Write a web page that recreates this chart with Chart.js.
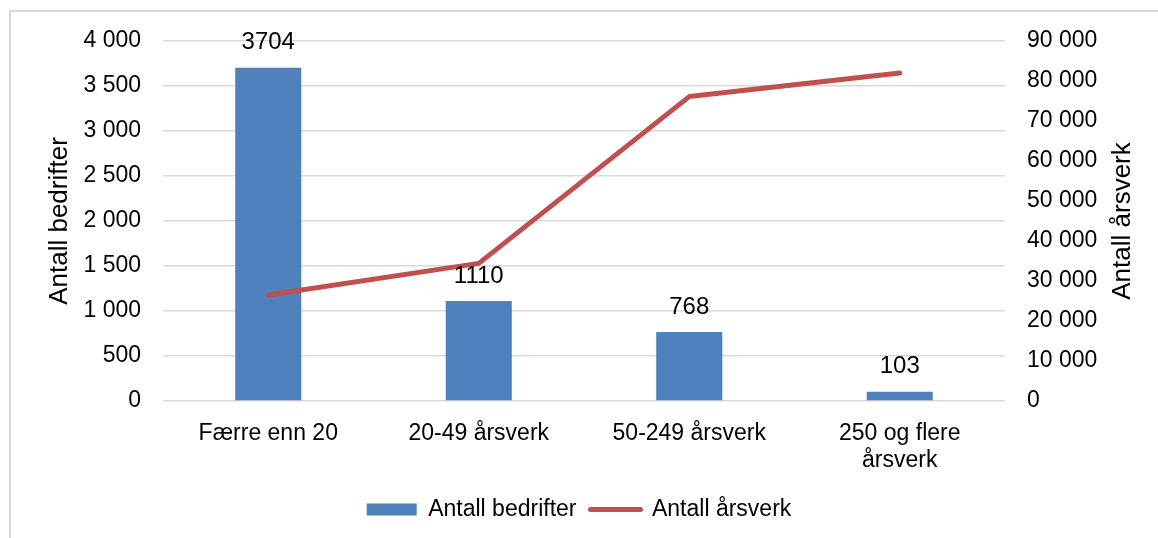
<!DOCTYPE html>
<html>
<head>
<meta charset="utf-8">
<script src="https://cdn.jsdelivr.net/npm/chart.js@4.4.1/dist/chart.umd.min.js"></script>
<style>
  html, body { margin: 0; padding: 0; background: #fff; overflow: hidden; }
  #frame { position: absolute; left: 9px; top: 10px; width: 1200px; height: 600px;
           border-left: 2px solid #d9d9d9; border-top: 2px solid #d9d9d9; }
  #wrap { position: absolute; left: 0; top: 0; width: 1158px; height: 538px; }
</style>
</head>
<body>
<div id="frame"></div>
<div id="wrap"><canvas id="chart"></canvas></div>
<script>
// Data
const categories = ['Færre enn 20', '20-49 årsverk', '50-249 årsverk', ['250 og flere', 'årsverk']];
const bedrifter = [3704, 1110, 768, 103];
const arsverk = [26500, 34400, 76100, 82000];
const leftTicks = [0, 500, 1000, 1500, 2000, 2500, 3000, 3500, 4000];
const rightTicks = [0, 10000, 20000, 30000, 40000, 50000, 60000, 70000, 80000, 90000];

const barColor = '#4F81BD';
const lineColor = '#C0504D';
const FONT = '"Liberation Sans", Arial, sans-serif';

function fmt(v) {
  return String(v).replace(/\B(?=(\d{3})+(?!\d))/g, ' ');
}

// Verdier over stolpene + tittel på høyre akse (lest nedenfra og opp)
const extras = {
  id: 'extras',
  afterDatasetsDraw(chart) {
    const meta = chart.getDatasetMeta(0);
    const ctx = chart.ctx;
    ctx.save();
    ctx.font = '24px ' + FONT;
    ctx.fillStyle = '#000';
    ctx.textAlign = 'center';
    ctx.textBaseline = 'middle';
    meta.data.forEach((bar, i) => {
      ctx.fillText(String(bedrifter[i]), bar.x, bar.y - 25);
    });

    const y1 = chart.scales.y1;
    ctx.font = '26px ' + FONT;
    ctx.translate(y1.right - 35, (chart.chartArea.top + chart.chartArea.bottom) / 2);
    ctx.rotate(-Math.PI / 2);
    ctx.fillText('Antall årsverk', 0, 0);
    ctx.restore();
  }
};

const ctx = document.getElementById('chart').getContext('2d');
new Chart(ctx, {
  data: {
    labels: categories,
    datasets: [
      {
        type: 'bar',
        label: 'Antall bedrifter',
        data: bedrifter,
        backgroundColor: barColor,
        yAxisID: 'y',
        barPercentage: 0.314,
        categoryPercentage: 1,
        order: 2
      },
      {
        type: 'line',
        label: 'Antall årsverk',
        data: arsverk,
        borderColor: lineColor,
        backgroundColor: lineColor,
        borderWidth: 5,
        borderCapStyle: 'round',
        borderJoinStyle: 'round',
        pointRadius: 0,
        tension: 0,
        yAxisID: 'y1',
        order: 1
      }
    ]
  },
  options: {
    responsive: true,
    maintainAspectRatio: false,
    animation: false,
    layout: { padding: { left: 0, right: 0, top: 41, bottom: 7 } },
    scales: {
      x: {
        grid: { display: false },
        border: { display: false },
        ticks: {
          color: '#000',
          padding: 11,
          maxRotation: 0,
          autoSkip: false,
          font: { family: FONT, size: 23, lineHeight: 1.18 }
        },
        afterFit: s => { s.height = 83; }
      },
      y: {
        position: 'left',
        min: 0,
        max: 4000,
        afterBuildTicks: s => { s.ticks = leftTicks.map(v => ({ value: v })); },
        grid: { color: '#d9d9d9', lineWidth: 1.5, drawTicks: false },
        border: { display: false },
        ticks: {
          color: '#000',
          padding: 22,
          font: { family: FONT, size: 23 },
          callback: v => fmt(v)
        },
        title: {
          display: true,
          text: 'Antall bedrifter',
          color: '#000',
          font: { family: FONT, size: 26 },
          padding: { top: 44, bottom: 0 }
        },
        afterFit: s => { s.width = 163; }
      },
      y1: {
        position: 'right',
        min: 0,
        max: 90000,
        afterBuildTicks: s => { s.ticks = rightTicks.map(v => ({ value: v })); },
        grid: { drawOnChartArea: false, drawTicks: false },
        border: { display: false },
        ticks: {
          color: '#000',
          padding: 22,
          font: { family: FONT, size: 23 },
          callback: v => fmt(v)
        },
        afterFit: s => { s.width = 153; }
      }
    },
    plugins: {
      tooltip: { enabled: false },
      legend: {
        position: 'bottom',
        labels: {
          color: '#000',
          font: { family: FONT, size: 23 },
          usePointStyle: true,
          pointStyleWidth: 50,
          boxHeight: 12,
          padding: 14,
          generateLabels: () => [
            { text: 'Antall bedrifter', fillStyle: barColor, strokeStyle: barColor, lineWidth: 0,
              pointStyle: 'rect', datasetIndex: 0, fontColor: '#000' },
            { text: 'Antall årsverk', fillStyle: lineColor, strokeStyle: lineColor, lineWidth: 5,
              lineCap: 'round', pointStyle: 'line', datasetIndex: 1, fontColor: '#000' }
          ]
        }
      }
    }
  },
  plugins: [extras]
});
</script>
</body>
</html>
